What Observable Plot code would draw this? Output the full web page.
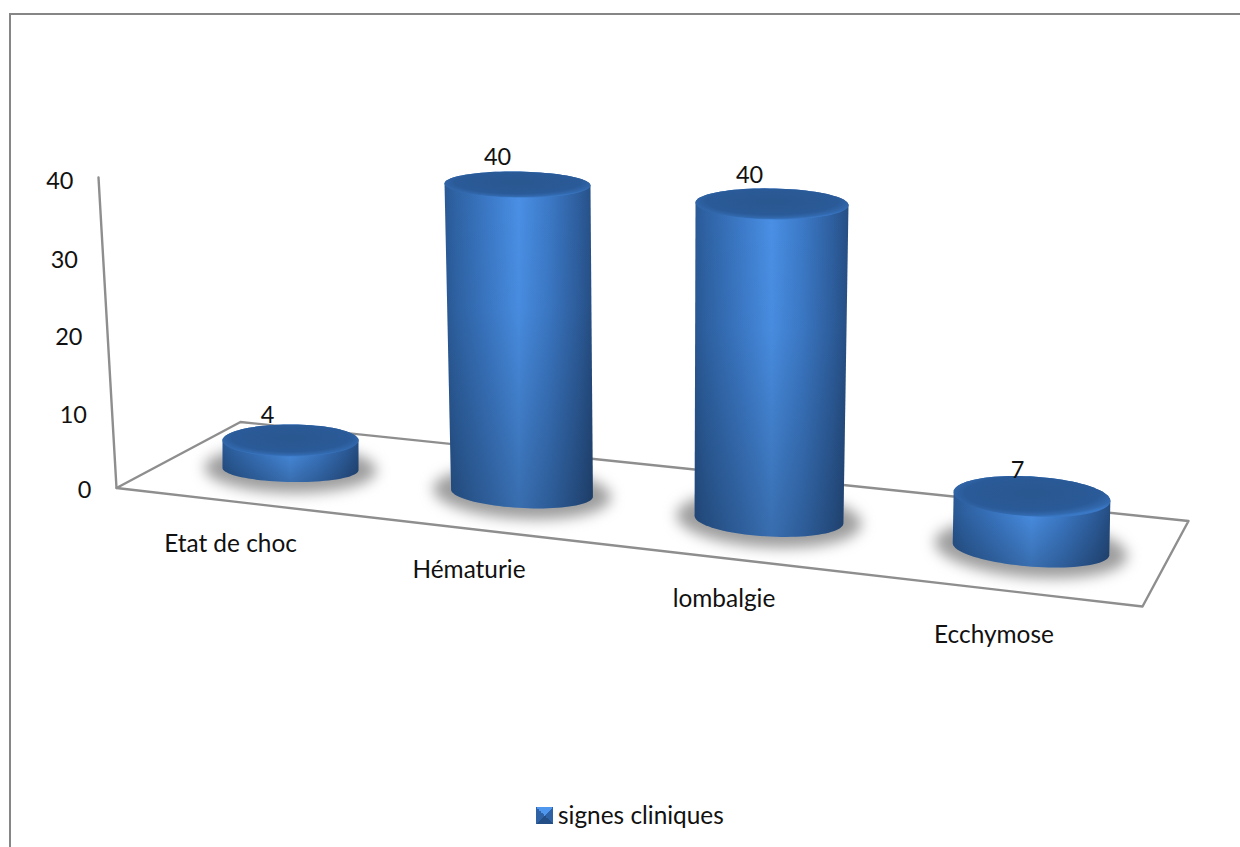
<!DOCTYPE html>
<html lang="fr">
<head>
<meta charset="utf-8">
<title>Signes cliniques</title>
<script src="https://cdn.jsdelivr.net/npm/d3@7"></script>
<script src="https://cdn.jsdelivr.net/npm/@observablehq/plot@0.6"></script>
<style>
  html, body { margin: 0; padding: 0; background: #fff; overflow: hidden; }
  #page { position: relative; width: 1240px; height: 847px; font-family: Lato, sans-serif; color: #111; }
  #page svg { position: absolute; left: 0; top: 0; }
  #legend { position: absolute; left: 536px; top: 802px; height: 26px; display: flex; align-items: center; font-size: 24.4px; line-height: 26px; }
  #legend i {
    width: 17px; height: 17px; margin-right: 5px; display: block;
    background: conic-gradient(from -45deg, #4f97ee 0 90deg, #2f62a4 90deg 180deg, #234e86 180deg 270deg, #2f62a4 270deg);
  }
</style>
</head>
<body>
<div id="page">
  <div id="legend"><i></i><span id="legend-label"></span></div>
</div>
<script>
// Chart content
const seriesName = "signes cliniques";
const categories = ["Etat de choc", "Hématurie", "lombalgie", "Ecchymose"];
const values = [4, 40, 40, 7];
const tickValues = [0, 10, 20, 30, 40];

// Oblique view: each cylinder's foot on the floor, measured in page pixels
const footX = [290, 521.5, 768.5, 1030.5];
const footY = [468.5, 492.5, 519, 548.5];
const footRx = [68, 71, 74.5, 78.5];
const footRy = [13, 15, 17, 17.5];
const footTilt = [1, 3, 3, 4.5];
const capX = [290, 517, 771.5, 1031.5];
const capRx = [68, 73, 76.5, 78.5];
const capRy = [16, 13, 15.5, 20];
const capTilt = [0, 0.8, 1, 3.5];
const heightFactor = [0.92, 0.995, 1.018, 0.968];

// Text placement
const labelX = [230, 468.5, 723.5, 993.5];
const labelY = [544, 570, 599, 635];
const valueLabelShiftX = [-23, -20, -22.5, -14.5];
const valueLabelShiftY = [-25, -27, -28, -26];
const tickRow = [489.5, 414.5, 336.5, 259.5, 180.5];

const floorFrontLeft = [116, 487.5];
const floorFrontRight = [1142, 606];
const floorBackRight = [1188, 520.5];
const floorBackLeft = [240, 421.5];
const wallTop = [98, 177];

const zeroPx = 488;
const pxPerUnit = 7.75;
// Converts a page row into the chart's value scale
const elevation = (px) => (zeroPx - px) / pxPerUnit;

function ellipse(cx, cy, rx, ry, tilt, from = 0, to = 360) {
  const a = (tilt * Math.PI) / 180;
  return d3.range(from, to + (to > from ? 1 : -1), (to > from ? 4 : -4)).map((deg) => {
    const t = (deg * Math.PI) / 180;
    return {
      x: cx + rx * Math.cos(t) * Math.cos(a) - ry * Math.sin(t) * Math.sin(a),
      y: elevation(cy + rx * Math.cos(t) * Math.sin(a) + ry * Math.sin(t) * Math.cos(a))
    };
  });
}

const cylinders = categories.map((name, i) => {
  const capY = footY[i] - values[i] * heightFactor[i] * pxPerUnit;
  const foot = ellipse(footX[i], footY[i], footRx[i], footRy[i], footTilt[i], 180, 0);
  const capBack = ellipse(capX[i], capY, capRx[i], capRy[i], capTilt[i], 0, -180);
  return {
    value: values[i],
    labelX: capX[i] + valueLabelShiftX[i],
    labelY: elevation(capY + valueLabelShiftY[i]),
    shadow: ellipse(footX[i], footY[i], footRx[i] + 18, footRy[i] + 11, footTilt[i]),
    body: [...foot, ...capBack],
    cap: ellipse(capX[i], capY, capRx[i], capRy[i], capTilt[i])
  };
});

const asPoint = ([x, px]) => ({ x, y: elevation(px) });
const floorOutline = [floorBackLeft, floorBackRight, floorFrontRight, floorFrontLeft, floorBackLeft].map(asPoint);
const wallEdge = [floorFrontLeft, wallTop].map(asPoint);

// Gradients for the cylinder wall and its cap
function gradients() {
  const defs = d3.create("svg:defs");
  const stops = (g, list) => list.forEach(([offset, color, opacity = 1]) =>
    g.append("stop").attr("offset", offset).attr("stop-color", color).attr("stop-opacity", opacity));
  stops(defs.append("linearGradient").attr("id", "wall"), [
    [0, "#2a5996"], [0.08, "#2f64a6"], [0.3, "#3c7ac8"], [0.5, "#4a90e6"], [0.7, "#3c7ac8"], [0.9, "#2e5f9f"], [1, "#264f85"]
  ]);
  stops(defs.append("linearGradient").attr("id", "wallShade").attr("x2", 0).attr("y2", 1), [
    [0, "#000", 0], [0.4, "#000", 0.03], [1, "#000", 0.24]
  ]);
  stops(defs.append("radialGradient").attr("id", "cap").attr("cy", 0.42).attr("r", 0.58), [
    [0, "#29578f"], [0.74, "#2a5a98"], [0.92, "#3269ae"], [1, "#3a78c6"]
  ]);
  return defs.node();
}

const stroke = "#8e8e8e";
const chart = Plot.plot({
  width: 1240,
  height: 847,
  margin: 0,
  x: { domain: [0, 1240], range: [0, 1240], axis: null },
  y: { domain: [0, 40], range: [zeroPx, zeroPx - 40 * pxPerUnit], axis: null },
  style: { background: "transparent", fontFamily: "Lato, sans-serif" },
  marks: [
    gradients,
    // Chart area border, open towards the page edge
    Plot.ruleY([elevation(13.5)], { x1: 9, x2: 1240, stroke: "#868686", strokeWidth: 2 }),
    Plot.ruleX([9.5], { y1: elevation(13), y2: elevation(847), stroke: "#868686", strokeWidth: 2 }),
    // Floor and value axis
    Plot.line(floorOutline, { x: "x", y: "y", stroke, strokeWidth: 2.4 }),
    Plot.line(wallEdge, { x: "x", y: "y", stroke, strokeWidth: 2.4 }),
    Plot.text(tickValues, {
      x: (v) => 91 - 0.45 * v, y: (v, i) => elevation(tickRow[i]),
      text: (v) => String(v), textAnchor: "end", fontSize: 23.5, fill: "#111"
    }),
    // Soft shadows on the floor
    ...cylinders.map((c) => Plot.line(c.shadow, {
      x: "x", y: "y", fill: "#777", fillOpacity: 0.72, stroke: "none", imageFilter: "blur(7px)"
    })),
    // Cylinders
    ...cylinders.flatMap((c) => [
      Plot.line(c.body, { x: "x", y: "y", fill: "url(#wall)", stroke: "none" }),
      Plot.line(c.body, { x: "x", y: "y", fill: "url(#wallShade)", stroke: "none" }),
      Plot.line(c.cap, { x: "x", y: "y", fill: "url(#cap)", stroke: "none" })
    ]),
    // Value labels
    Plot.text(cylinders, {
      x: "labelX", y: "labelY",
      text: (c) => String(c.value), fontSize: 23.5, fill: "#111"
    }),
    // Category labels
    Plot.text(categories, {
      x: (d, i) => labelX[i], y: (d, i) => elevation(labelY[i]),
      text: (d) => d, fontSize: 24.4, fill: "#111"
    })
  ]
});

document.getElementById("page").prepend(chart);
document.getElementById("legend-label").textContent = seriesName;
</script>
</body>
</html>
